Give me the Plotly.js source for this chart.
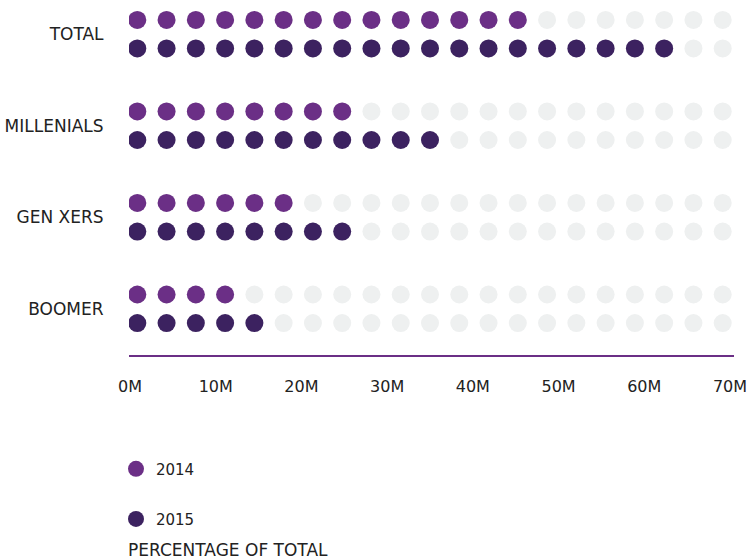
<!DOCTYPE html>
<html>
<head>
<meta charset="utf-8">
<script src="https://cdn.plot.ly/plotly-3.0.1.min.js"></script>
<style>html,body{margin:0;padding:0;background:#fff;}</style>
</head>
<body>
<div id="chart" style="width:750px;height:560px;"></div>
<script>
// ---- data ----
const categories = ['TOTAL', 'MILLENIALS', 'GEN XERS', 'BOOMER'];
const dots2014 = [14, 8, 6, 4];
const dots2015 = [19, 11, 8, 5];
const slotsPerRow = 21;
const xTickVals = [0, 10, 20, 30, 40, 50, 60, 70];
const xTickText = ['0M', '10M', '20M', '30M', '40M', '50M', '60M', '70M'];
const seriesNames = ['2014', '2015'];

// ---- style ----
const C2014 = '#6b2f86';
const C2015 = '#3c2260';
const CGREY = '#eef0f0';
const TEXT = '#222222';
const FONT = 'DejaVu Sans, sans-serif';
const ROW_OFF = 0.156;

const greyX = [], greyY = [];
const x14 = [], y14 = [], x15 = [], y15 = [];
categories.forEach((c, g) => {
  for (let i = 0; i < slotsPerRow; i++) {
    greyX.push(i); greyY.push(g - ROW_OFF);
    greyX.push(i); greyY.push(g + ROW_OFF);
  }
  for (let i = 0; i < dots2014[g]; i++) { x14.push(i); y14.push(g - ROW_OFF); }
  for (let i = 0; i < dots2015[g]; i++) { x15.push(i); y15.push(g + ROW_OFF); }
});

const traces = [
  {type: 'scatter', mode: 'markers', x: greyX, y: greyY, xaxis: 'x2', yaxis: 'y',
   marker: {size: 18, color: CGREY}, showlegend: false, hoverinfo: 'skip'},
  {type: 'scatter', mode: 'markers', x: x14, y: y14, xaxis: 'x2', yaxis: 'y', name: seriesNames[0],
   marker: {size: 18, color: C2014}, legend: 'legend'},
  {type: 'scatter', mode: 'markers', x: x15, y: y15, xaxis: 'x2', yaxis: 'y', name: seriesNames[1],
   marker: {size: 18, color: C2015}, legend: 'legend2'},
  // invisible trace to anchor primary x axis
  {type: 'scatter', mode: 'markers', x: [0], y: [0], xaxis: 'x', yaxis: 'y',
   marker: {size: 1, color: 'rgba(0,0,0,0)'}, showlegend: false, hoverinfo: 'skip'}
];

const layout = {
  width: 750, height: 560,
  margin: {l: 129, r: 16, t: 5, b: 205},
  paper_bgcolor: '#fff', plot_bgcolor: '#fff',
  font: {family: FONT, color: TEXT, size: 16},
  xaxis: {
    range: [-0.117, 70.47], tickvals: xTickVals, ticktext: xTickText,
    showgrid: false, zeroline: false, showline: true, linecolor: C2014, linewidth: 2,
    ticks: 'outside', ticklen: 16, tickcolor: 'rgba(0,0,0,0)',
    tickfont: {size: 16, color: TEXT, family: FONT}, fixedrange: true
  },
  xaxis2: {
    overlaying: 'x', range: [-0.2836, 20.386], visible: false, fixedrange: true
  },
  yaxis: {
    range: [3.505, -0.319], tickvals: [0, 1, 2, 3], ticktext: categories,
    showgrid: false, zeroline: false, showline: false,
    ticks: 'outside', ticklen: 21, tickcolor: 'rgba(0,0,0,0)',
    tickfont: {size: 17, color: TEXT, family: FONT}, fixedrange: true
  },
  legend: {x: -0.0215, xanchor: 'left', y: -0.326, yanchor: 'middle',
           font: {size: 15, color: TEXT, family: FONT}, bgcolor: 'rgba(0,0,0,0)', borderwidth: 0},
  legend2: {x: -0.0215, xanchor: 'left', y: -0.469, yanchor: 'middle',
           font: {size: 15, color: TEXT, family: FONT}, bgcolor: 'rgba(0,0,0,0)', borderwidth: 0},
  annotations: [{
    text: 'PERCENTAGE OF TOTAL', xref: 'paper', yref: 'paper', x: -0.005, y: -0.557,
    xanchor: 'left', yanchor: 'middle', showarrow: false,
    font: {size: 17, color: TEXT, family: FONT}
  }],
  showlegend: true
};

Plotly.newPlot('chart', traces, layout, {displayModeBar: false, staticPlot: true});
</script>
</body>
</html>
